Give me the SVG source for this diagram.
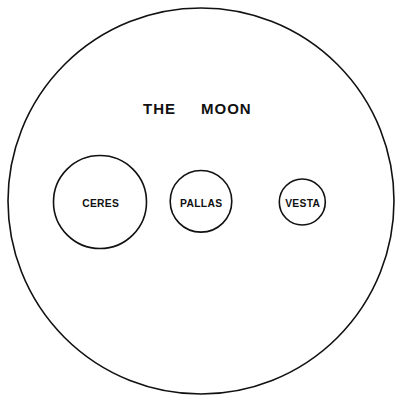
<svg xmlns="http://www.w3.org/2000/svg" width="400" height="402" viewBox="0 0 400 402">
<style>
.c{fill:none;stroke:#111;stroke-width:1.6}
.t{font-family:"Liberation Sans",Arial,sans-serif;font-weight:bold;fill:#111;text-anchor:middle}
.s{font-size:10.3px;letter-spacing:0.3px}
.h{font-size:15px;letter-spacing:1px;text-anchor:start}
</style>
<rect width="400" height="402" fill="#fff"/>
<g id="moon">
<circle class="c" cx="201" cy="201" r="193"/>
<text class="t h" x="143" y="114.3">THE</text>
<text class="t h" x="201" y="114.3">MOON</text>
</g>
<g id="ceres">
<circle class="c" cx="100" cy="202" r="46.5"/>
<text class="t s" x="100.7" y="207.3">CERES</text>
</g>
<g id="pallas">
<circle class="c" cx="201" cy="201.3" r="30.8"/>
<text class="t s" x="201.2" y="207.3">PALLAS</text>
</g>
<g id="vesta">
<circle class="c" cx="302.3" cy="202" r="23"/>
<text class="t s" x="302.7" y="207.3">VESTA</text>
</g>
<g id="connectors"/>
</svg>
